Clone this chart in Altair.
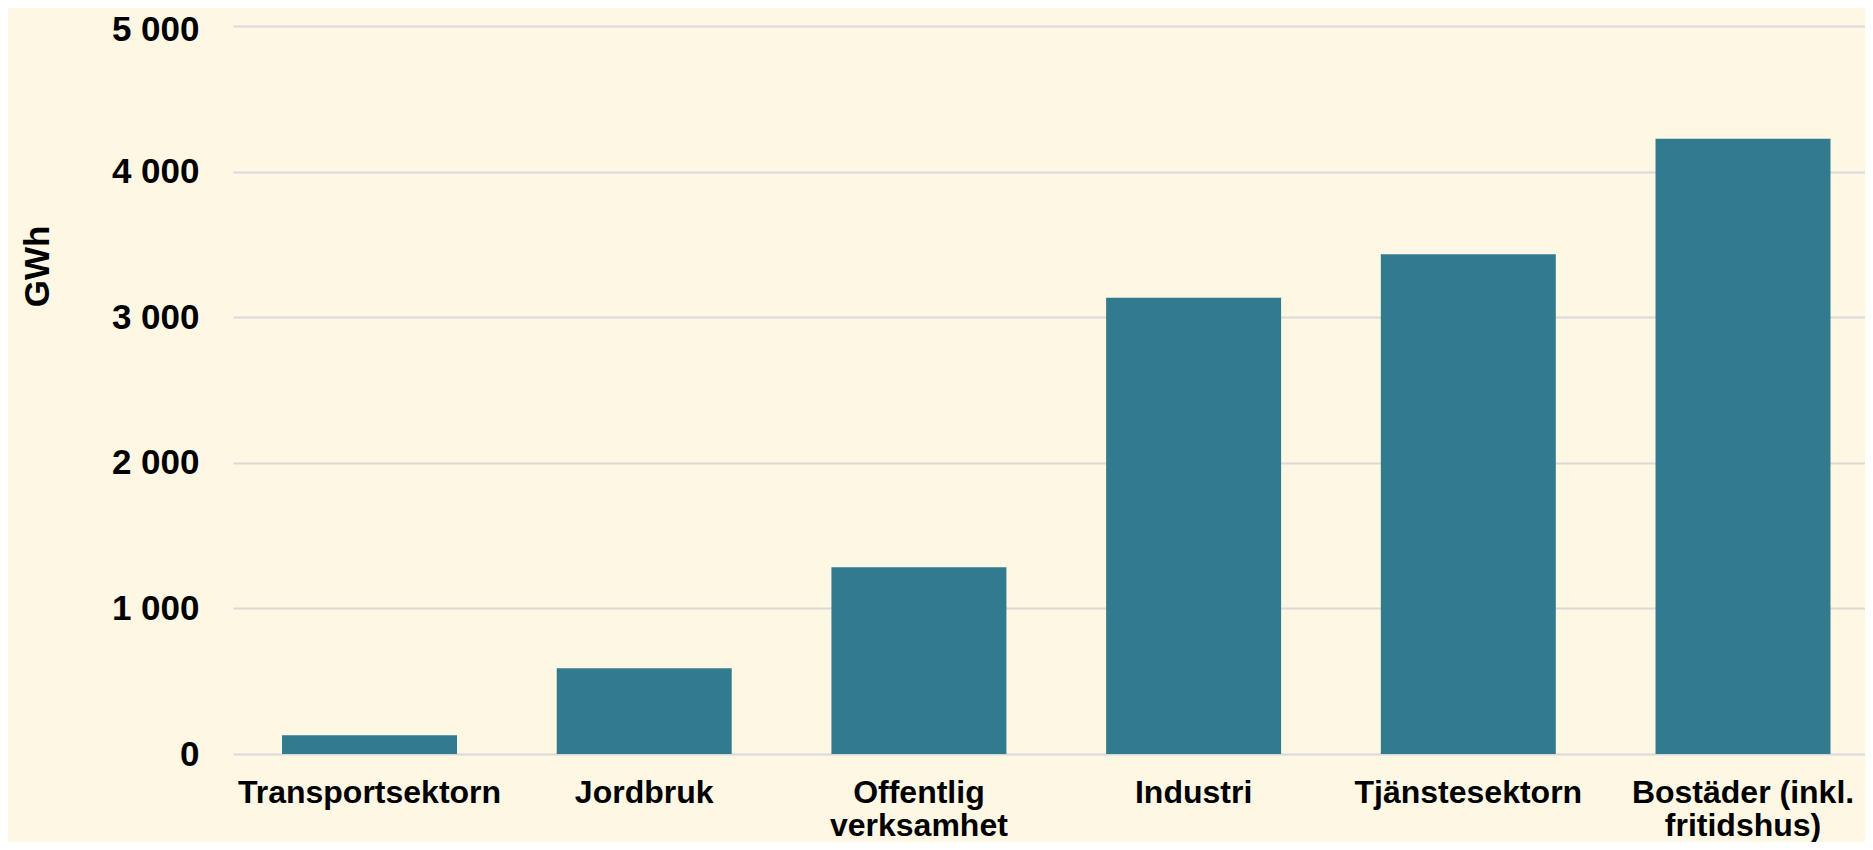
import altair as alt
import pandas as pd

categories = ["Transportsektorn", "Jordbruk", "Offentlig|verksamhet", "Industri",
              "Tjänstesektorn", "Bostäder (inkl.|fritidshus)"]
values_gwh = [128, 589, 1283, 3134, 3432, 4225]
y_ticks = [0, 1000, 2000, 3000, 4000, 5000]

df = pd.DataFrame({"sektor": categories, "gwh": values_gwh})

FONT = "Liberation Sans"
BG = "#FDF7E3"
BAR = "#327B8E"
GRID = "#D9D9D9"

chart = alt.Chart(df).mark_bar(color=BAR).encode(
    x=alt.X("sektor:N", sort=categories, title=None,
            scale=alt.Scale(paddingInner=0.363, paddingOuter=0.152, align=0.587),
            axis=alt.Axis(labelExpr="split(datum.label, '|')", labelAngle=0,
                          labelFont=FONT, labelFontWeight="bold", labelFontSize=32,
                          labelColor="#000000", labelLineHeight=33, labelLimit=500,
                          labelPadding=23, ticks=False, tickSize=0,
                          domain=False, grid=False, labelOverlap=False)),
    y=alt.Y("gwh:Q", title="GWh",
            scale=alt.Scale(domain=[0, 5000], nice=False),
            axis=alt.Axis(values=y_ticks,
                          labelExpr="replace(format(datum.value, ','), ',', ' ')",
                          labelFont=FONT, labelFontWeight="bold", labelFontSize=35,
                          labelColor="#000000", labelPadding=34,
                          labelOffset={"condition": {"test": "datum.value == 5000", "value": 3},
                                       "value": 0},
                          ticks=False, tickSize=0, domain=False,
                          grid=True, gridColor=GRID, gridWidth=2,
                          titleFont=FONT, titleFontWeight="bold", titleFontSize=35,
                          titleColor="#000000", titleAngle=270,
                          titleAlign="center", titleBaseline="middle",
                          titleX=-196, titleY=240)),
).properties(
    width=1632, height=728,
    background=BG,
    padding={"left": 225, "top": 18, "right": 0, "bottom": 88},
    autosize=alt.AutoSizeParams(type="none"),
).configure_view(stroke=None)

chart.save("out.html", embed_options={"renderer": "svg", "actions": False})
